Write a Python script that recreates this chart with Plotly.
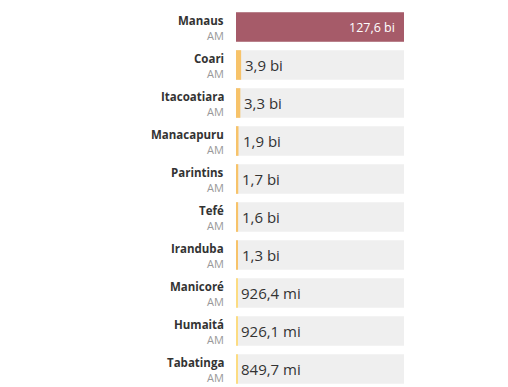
import plotly.graph_objects as go

cities = ["Manaus", "Coari", "Itacoatiara", "Manacapuru", "Parintins", "Tefé",
          "Iranduba", "Manicoré", "Humaitá", "Tabatinga"]
states = ["AM"] * 10
values_bi = [127.6, 3.9, 3.3, 1.9, 1.7, 1.6, 1.3, 0.9264, 0.9261, 0.8497]
value_labels = ["127,6 bi", "3,9 bi", "3,3 bi", "1,9 bi", "1,7 bi", "1,6 bi",
                "1,3 bi", "926,4 mi", "926,1 mi", "849,7 mi"]

def color_for(v, i):
    if i == 0:
        return "#a65b69"
    if v >= 1:
        return "#f7c36a"
    return "#fcdc82"

colors = [color_for(v, i) for i, v in enumerate(values_bi)]
maxv = max(values_bi)

fig = go.Figure()
fig.add_trace(go.Bar(
    y=cities, x=[maxv] * len(cities), orientation="h",
    marker=dict(color="#efefef", line=dict(width=0)),
    hoverinfo="skip", showlegend=False,
))
fig.add_trace(go.Bar(
    y=cities, x=values_bi, orientation="h",
    marker=dict(color=colors, line=dict(width=0)),
    showlegend=False,
))

for i, (c, s, v, lab) in enumerate(zip(cities, states, values_bi, value_labels)):
    fig.add_annotation(xref="paper", yref="y", x=0, y=c, text="<b>" + c + "</b>",
                       showarrow=False, xanchor="right", yanchor="middle",
                       xshift=-10, yshift=7,
                       font=dict(family="Open Sans", size=11.5, color="#333333"))
    fig.add_annotation(xref="paper", yref="y", x=0, y=c, text=s,
                       showarrow=False, xanchor="right", yanchor="middle",
                       xshift=-10, yshift=-8,
                       font=dict(family="Open Sans", size=11, color="#999999"))
    if i == 0:
        fig.add_annotation(xref="x", yref="y", x=v, y=c, text=lab,
                           showarrow=False, xanchor="right", yanchor="middle",
                           xshift=-7,
                           font=dict(family="Open Sans", size=12.5, color="#ffffff"))
    else:
        fig.add_annotation(xref="x", yref="y", x=v, y=c, text=lab,
                           showarrow=False, xanchor="left", yanchor="middle",
                           xshift=2,
                           font=dict(family="Open Sans", size=15, color="#333333"))

fig.update_layout(
    width=500, height=387,
    margin=dict(l=228, r=104, t=0, b=7),
    paper_bgcolor="white", plot_bgcolor="white",
    barmode="overlay", bargap=0.22,
    xaxis=dict(range=[0, maxv], visible=False, fixedrange=True),
    yaxis=dict(autorange="reversed", visible=False, fixedrange=True),
)
fig.write_html("out.html")
